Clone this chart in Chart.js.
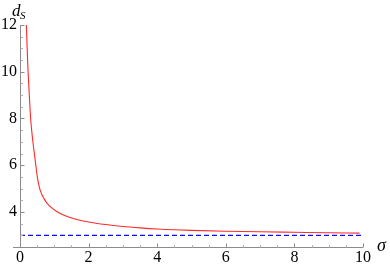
<!DOCTYPE html>
<html>
<head>
<meta charset="utf-8">
<script src="https://cdn.jsdelivr.net/npm/chart.js@4.4.0/dist/chart.umd.min.js"></script>
<style>
  html, body { margin: 0; padding: 0; background: #fff; }
  #wrap { width: 390px; height: 269px; }
</style>
</head>
<body>
<div id="wrap"><canvas id="dsChart" width="390" height="269"></canvas></div>
<script>
// valeurs
const sigma = [0.185, 0.21, 0.233, 0.26, 0.283, 0.31, 0.34, 0.37, 0.41, 0.44, 0.505, 0.55, 0.6, 0.7, 0.78, 0.9, 1.07, 1.3, 1.6, 2.0, 2.5, 3.0, 3.5, 4.0, 4.5, 5.0, 6.0, 7.0, 8.0, 9.0, 9.9];
const dS = [12.0, 10.95, 10.08, 9.3, 8.68, 8.0, 7.5, 7.08, 6.6, 6.25, 5.5, 5.15, 4.88, 4.57, 4.39, 4.21, 4.02, 3.85, 3.7, 3.57, 3.46, 3.38, 3.32, 3.27, 3.235, 3.21, 3.175, 3.15, 3.13, 3.11, 3.095];
const asymX = [0, 10];
const asymY = [3, 3];
const xTicks = [0, 2, 4, 6, 8, 10];
const yTicks = [4, 6, 8, 10, 12];
const minorStep = 0.5;

const axisColor = '#8c8c8c';
const labelFont = { family: "'Liberation Serif', 'Times New Roman', serif", size: 16 };

// axes a la Mathematica : lignes + graduations vers l'interieur
const axesPlugin = {
    id: 'mmaAxes',
    afterDatasetsDraw(chart) {
        const ctx = chart.ctx;
        const xs = chart.scales.x;
        const ys = chart.scales.y;
        const x0 = Math.round(xs.getPixelForValue(0)) + 0.5;
        const yb = Math.round(ys.getPixelForValue(ys.min)) + 0.5;
        ctx.save();
        ctx.strokeStyle = axisColor;
        ctx.lineWidth = 1;
        ctx.beginPath();
        ctx.moveTo(xs.left - 7, yb);
        ctx.lineTo(xs.right, yb);
        ctx.moveTo(x0, ys.top);
        ctx.lineTo(x0, yb);
        ctx.stroke();

        // graduations x
        for (let v = 0; v <= xs.max + 1e-9; v += minorStep) {
            const major = xTicks.some(t => Math.abs(t - v) < 1e-9);
            const px = Math.round(xs.getPixelForValue(v)) + 0.5;
            ctx.beginPath();
            ctx.strokeStyle = major ? axisColor : '#b4b4b4';
            ctx.moveTo(px, yb);
            ctx.lineTo(px, yb - (major ? 4 : 2.5));
            ctx.stroke();
        }
        // graduations y
        for (let v = 3; v <= ys.max + 1e-9; v += minorStep) {
            const major = yTicks.some(t => Math.abs(t - v) < 1e-9);
            const py = Math.round(ys.getPixelForValue(v)) + 0.5;
            ctx.beginPath();
            ctx.strokeStyle = major ? axisColor : '#b4b4b4';
            ctx.moveTo(x0, py);
            ctx.lineTo(x0 + (major ? 4 : 2.5), py);
            ctx.stroke();
        }

        // titres des axes
        ctx.fillStyle = '#000';
        ctx.textBaseline = 'alphabetic';
        ctx.font = "italic 17px 'Liberation Serif', serif";
        ctx.fillText('d', 12, 16);
        ctx.font = "italic 11px 'Liberation Serif', serif";
        ctx.fillText('S', 20, 19);
        ctx.font = "italic 18px 'Liberation Serif', serif";
        ctx.fillText('σ', 377, 251);
        ctx.restore();
    }
};

const ctx = document.getElementById('dsChart').getContext('2d');
new Chart(ctx, {
    type: 'scatter',
    data: {
        datasets: [{
            label: 'ds',
            data: sigma.map((s, i) => ({ x: s, y: dS[i] })),
            showLine: true,
            borderColor: '#ff2a2a',
            borderWidth: 1.1,
            pointRadius: 0,
            cubicInterpolationMode: 'monotone',
            fill: false
        }, {
            label: 'asymptote',
            data: asymX.map((s, i) => ({ x: s, y: asymY[i] })),
            showLine: true,
            borderColor: '#1010ff',
            borderWidth: 1.2,
            borderDash: [5, 3],
            pointRadius: 0,
            fill: false
        }]
    },
    options: {
        responsive: false,
        animation: false,
        layout: { padding: { top: 25, right: 27, left: 0, bottom: 0 } },
        plugins: {
            legend: { display: false },
            tooltip: { enabled: false }
        },
        scales: {
            x: {
                type: 'linear',
                min: 0,
                max: 10,
                grid: { display: false, drawTicks: false },
                border: { display: false },
                afterBuildTicks: s => { s.ticks = xTicks.map(v => ({ value: v })); },
                afterFit: s => { s.height = 22; },
                ticks: { color: '#000', font: labelFont, padding: 1, maxRotation: 0, autoSkip: false }
            },
            y: {
                type: 'linear',
                min: 2.5,
                max: 12,
                grid: { display: false, drawTicks: false },
                border: { display: false },
                afterBuildTicks: s => { s.ticks = yTicks.map(v => ({ value: v })); },
                afterFit: s => { s.width = 20; },
                ticks: { color: '#000', font: labelFont, padding: 3, autoSkip: false }
            }
        }
    },
    plugins: [axesPlugin]
});
</script>
</body>
</html>
